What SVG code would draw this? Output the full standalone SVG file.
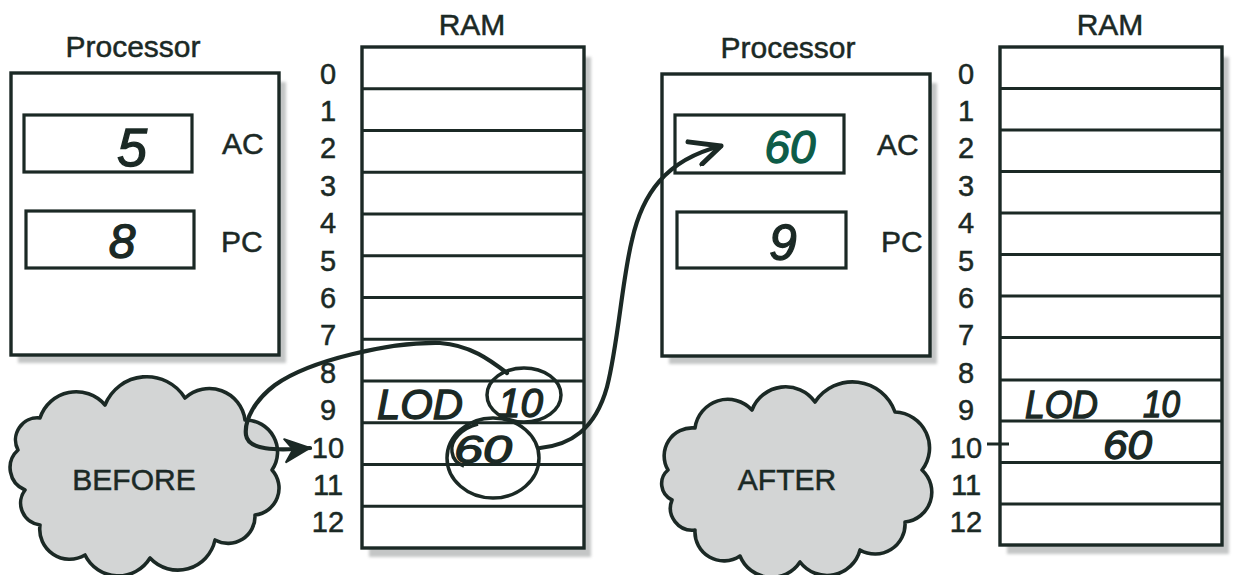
<svg xmlns="http://www.w3.org/2000/svg" width="1233" height="575" viewBox="0 0 1233 575">
<style>
.box{fill:#fff;stroke:#1b2925;stroke-width:3.4}
.reg{fill:#fff;stroke:#1b2925;stroke-width:3.2}
.row{stroke:#1b2925;stroke-width:2.8}
.shadow{fill:#c4c6c6;filter:url(#blur)}
.lbl{font-family:"Liberation Sans",Arial,sans-serif;font-size:30px;fill:#1b2925;stroke:#1b2925;stroke-width:0.5}
.num{font-family:"Liberation Sans",Arial,sans-serif;font-size:29px;fill:#1b2925;stroke:#1b2925;stroke-width:0.5;text-anchor:middle}
.hand{font-family:"Liberation Sans",Arial,sans-serif;font-style:italic;fill:#1b2925;stroke:#1b2925;stroke-width:1.3}
.cloud{fill:#d3d5d5;stroke:#1b2925;stroke-width:3.6;stroke-linejoin:round}
.conn{fill:none;stroke:#1b2925;stroke-width:4.2;stroke-linecap:round}
.ring{fill:none;stroke:#1b2925;stroke-width:3.5}
</style>
<defs>
<filter id="blur" x="-10%" y="-10%" width="120%" height="120%"><feGaussianBlur stdDeviation="1.6"/></filter>
<marker id="headFill" viewBox="0 0 30 30" refX="28" refY="15" markerWidth="30" markerHeight="30" markerUnits="userSpaceOnUse" orient="auto">
<path d="M3,4 L28,15 L3,27 L11,15 Z" fill="#1b2925" stroke="#1b2925" stroke-width="2" stroke-linejoin="round"/>
</marker>
<marker id="headOpen" viewBox="0 0 40 30" refX="37" refY="15" markerWidth="40" markerHeight="30" markerUnits="userSpaceOnUse" orient="auto">
<path d="M6,3 L37,15 L14,28" fill="none" stroke="#1b2925" stroke-width="5" stroke-linecap="round" stroke-linejoin="round"/>
</marker>
</defs>
<rect width="1233" height="575" fill="#fff"/>

<g id="processor-before">
<rect class="shadow" x="18" y="82" width="268" height="281"/>
<rect class="box" x="11" y="73" width="268" height="282"/>
<text class="lbl" x="133" y="57" text-anchor="middle">Processor</text>
<g id="ac-before">
<rect class="reg" x="24" y="115" width="168" height="57"/>
<text class="hand" x="132" y="166" font-size="54" text-anchor="middle">5</text>
<text class="lbl" x="222" y="154">AC</text>
</g>
<g id="pc-before">
<rect class="reg" x="26" y="211" width="168" height="57"/>
<text class="hand" x="122" y="258" font-size="48" text-anchor="middle">8</text>
<text class="lbl" x="221" y="252">PC</text>
</g>
</g>

<g id="ram-before">
<rect class="shadow" x="369" y="57" width="222" height="500"/>
<rect class="box" x="362" y="47" width="222" height="501"/>
<text class="lbl" x="472" y="35" text-anchor="middle">RAM</text>
<g>
<line class="row" x1="362" y1="88.75" x2="584" y2="88.75"/>
<line class="row" x1="362" y1="130.5" x2="584" y2="130.5"/>
<line class="row" x1="362" y1="172.25" x2="584" y2="172.25"/>
<line class="row" x1="362" y1="214" x2="584" y2="214"/>
<line class="row" x1="362" y1="255.75" x2="584" y2="255.75"/>
<line class="row" x1="362" y1="297.5" x2="584" y2="297.5"/>
<line class="row" x1="362" y1="339.25" x2="584" y2="339.25"/>
<line class="row" x1="362" y1="381" x2="584" y2="381"/>
<line class="row" x1="362" y1="422.75" x2="584" y2="422.75"/>
<line class="row" x1="362" y1="464.5" x2="584" y2="464.5"/>
<line class="row" x1="362" y1="506.25" x2="584" y2="506.25"/>
</g>
<g>
<text class="num" x="328" y="83.5">0</text>
<text class="num" x="328" y="121">1</text>
<text class="num" x="328" y="158.3">2</text>
<text class="num" x="328" y="195.7">3</text>
<text class="num" x="328" y="233.1">4</text>
<text class="num" x="328" y="270.5">5</text>
<text class="num" x="328" y="307.9">6</text>
<text class="num" x="328" y="345.3">7</text>
<text class="num" x="328" y="382.7">8</text>
<text class="num" x="328" y="420.1">9</text>
<text class="num" x="328" y="457.5">10</text>
<text class="num" x="328" y="494.9">11</text>
<text class="num" x="328" y="532.3">12</text>
</g>
<text class="hand" x="377" y="419" font-size="42" textLength="86" lengthAdjust="spacingAndGlyphs">LOD</text>
<text class="hand" x="498" y="417" font-size="40" textLength="45" lengthAdjust="spacingAndGlyphs">10</text>
<text class="hand" x="454" y="463" font-size="38" textLength="58" lengthAdjust="spacingAndGlyphs">60</text>
<ellipse class="ring" cx="524" cy="395" rx="37" ry="27"/>
<ellipse class="ring" cx="493" cy="458" rx="46" ry="40"/>
<path class="ring" d="M478,424 C462,428 450,440 452,452 C453,460 458,464 464,466"/>
</g>

<g id="before-cloud">
<path class="cloud" d="M18,450 A22,22 0 0 1 40,418 A38,38 0 0 1 105,405 A45,45 0 0 1 185,398 A36,36 0 0 1 245,420 A32,32 0 0 1 272,470 A27,27 0 0 1 255,515 A27,27 0 0 1 215,540 A38,38 0 0 1 150,558 A37,37 0 0 1 85,555 A30,30 0 0 1 40,525 A22,22 0 0 1 25,490 A24,24 0 0 1 18,450 Z"/>
<text class="lbl" x="134" y="490" text-anchor="middle">BEFORE</text>
</g>

<g id="processor-after">
<rect class="shadow" x="669" y="83" width="268" height="281"/>
<rect class="box" x="662" y="74" width="268" height="282"/>
<text class="lbl" x="788" y="58" text-anchor="middle">Processor</text>
<g id="ac-after">
<rect class="reg" x="675" y="115" width="169" height="58"/>
<text class="hand" x="790" y="163" font-size="46" style="fill:#0d5c48;stroke:#0d5c48" text-anchor="middle">60</text>
<text class="lbl" x="877" y="155">AC</text>
</g>
<g id="pc-after">
<rect class="reg" x="677" y="212" width="169" height="56"/>
<text class="hand" x="783" y="260" font-size="50" text-anchor="middle">9</text>
<text class="lbl" x="881" y="252">PC</text>
</g>
</g>

<g id="ram-after">
<rect class="shadow" x="1007" y="57" width="222" height="497"/>
<rect class="box" x="1000" y="47" width="222" height="498"/>
<text class="lbl" x="1110" y="35" text-anchor="middle">RAM</text>
<g>
<line class="row" x1="1000" y1="88.5" x2="1222" y2="88.5"/>
<line class="row" x1="1000" y1="130" x2="1222" y2="130"/>
<line class="row" x1="1000" y1="171.5" x2="1222" y2="171.5"/>
<line class="row" x1="1000" y1="213" x2="1222" y2="213"/>
<line class="row" x1="1000" y1="254.5" x2="1222" y2="254.5"/>
<line class="row" x1="1000" y1="296" x2="1222" y2="296"/>
<line class="row" x1="1000" y1="337.5" x2="1222" y2="337.5"/>
<line class="row" x1="1000" y1="380" x2="1222" y2="380"/>
<line class="row" x1="1000" y1="421" x2="1222" y2="421"/>
<line class="row" x1="1000" y1="462.5" x2="1222" y2="462.5"/>
<line class="row" x1="1000" y1="504" x2="1222" y2="504"/>
</g>
<g>
<text class="num" x="966" y="83.5">0</text>
<text class="num" x="966" y="121">1</text>
<text class="num" x="966" y="158.3">2</text>
<text class="num" x="966" y="195.7">3</text>
<text class="num" x="966" y="233.1">4</text>
<text class="num" x="966" y="270.5">5</text>
<text class="num" x="966" y="307.9">6</text>
<text class="num" x="966" y="345.3">7</text>
<text class="num" x="966" y="382.7">8</text>
<text class="num" x="966" y="420.1">9</text>
<text class="num" x="966" y="457.5">10</text>
<text class="num" x="966" y="494.9">11</text>
<text class="num" x="966" y="532.3">12</text>
</g>
<line x1="987" y1="444" x2="1009" y2="444" stroke="#1b2925" stroke-width="3"/>
<text class="hand" x="1025" y="418" font-size="38" textLength="73" lengthAdjust="spacingAndGlyphs">LOD</text>
<text class="hand" x="1143" y="417" font-size="36" textLength="37" lengthAdjust="spacingAndGlyphs">10</text>
<text class="hand" x="1103" y="459" font-size="40" textLength="49" lengthAdjust="spacingAndGlyphs">60</text>
</g>

<g id="after-cloud">
<path class="cloud" d="M668,470 A28,28 0 0 1 695,428 A33,33 0 0 1 752,410 A36,36 0 0 1 815,402 A45,45 0 0 1 895,412 A36,36 0 0 1 922,470 A30,30 0 0 1 905,522 A30,30 0 0 1 860,550 A34,34 0 0 1 800,562 A34,34 0 0 1 740,556 A29,29 0 0 1 695,530 A22,22 0 0 1 672,500 A18,18 0 0 1 668,470 Z"/>
<text class="lbl" x="787" y="490" text-anchor="middle">AFTER</text>
</g>

<g id="connectors">
<path class="conn" d="M507,373 C490,360 470,345 440,343 C390,342 310,360 275,385 C255,400 244,420 246,435 C248,450 275,451 310,448" marker-end="url(#headFill)"/>
<path class="conn" d="M540,448 C570,445 595,430 607,387 C618,345 622,280 632,240 C642,195 665,160 721,146" marker-end="url(#headOpen)"/>
</g>
</svg>
